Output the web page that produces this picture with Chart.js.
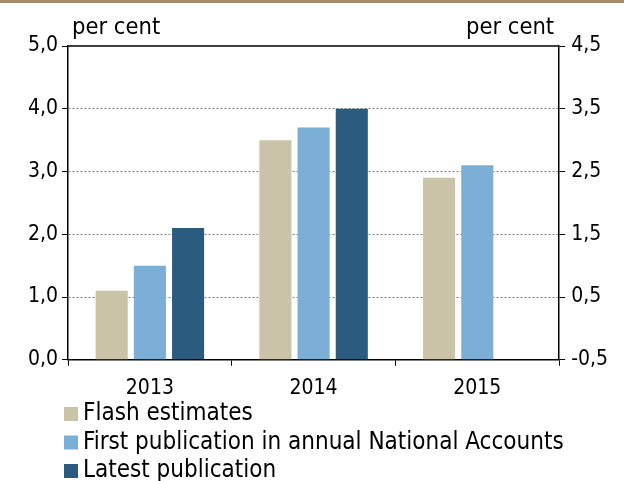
<!DOCTYPE html>
<html>
<head>
<meta charset="utf-8">
<script src="https://cdn.jsdelivr.net/npm/chart.js@4"></script>
<style>
  body { margin: 0; background: #fff; }
  #wrap { width: 624px; height: 478px; border-top: 3px solid #a68b6c; }
</style>
</head>
<body>
<div id="wrap"><canvas id="chart" width="624" height="478"></canvas></div>
<script>
// data
const years = ['2013', '2014', '2015'];
const flashEstimates = [1.1, 3.5, 2.9];
const firstPublication = [1.5, 3.7, 3.1];
const latestPublication = [2.1, 4.0, null];
const seriesNames = ['Flash estimates', 'First publication in annual National Accounts', 'Latest publication'];
const seriesColors = ['#cac3a8', '#7cafd5', '#2b5b7f'];

const FONT = '"DejaVu Sans Condensed", "DejaVu Sans", sans-serif';
Chart.defaults.font.family = FONT;
Chart.defaults.font.size = 21;
Chart.defaults.color = '#000';

function comma(v) {
    return v.toFixed(1).replace('.', ',');
}

// frame top line, "per cent" labels and the legend
const extras = {
    id: 'extras',
    afterDraw(chart) {
        const ctx = chart.ctx;
        const a = chart.chartArea;
        ctx.save();
        ctx.strokeStyle = '#000';
        ctx.lineWidth = 1.5;
        ctx.beginPath();
        ctx.moveTo(a.left, a.top);
        ctx.lineTo(a.right, a.top);
        ctx.stroke();

        ctx.fillStyle = '#000';
        ctx.font = '23.5px ' + FONT;
        ctx.textBaseline = 'middle';
        ctx.textAlign = 'left';
        ctx.fillText('per cent', a.left + 4, 25);
        ctx.textAlign = 'right';
        ctx.fillText('per cent', a.right - 5, 25);

        // legend, one row per series
        ctx.font = '24px ' + FONT;
        ctx.textAlign = 'left';
        chart.data.datasets.forEach(function (ds, i) {
            const y = 411 + i * 28.5;
            ctx.fillStyle = ds.backgroundColor;
            ctx.fillRect(64, y - 7, 14, 14);
            ctx.fillStyle = '#000';
            ctx.fillText(ds.label, 83, y);
        });
        ctx.restore();
    }
};

const ctxChart = document.getElementById('chart').getContext('2d');
const chart = new Chart(ctxChart, {
    type: 'bar',
    data: {
        labels: years,
        datasets: [
            { label: seriesNames[0], data: flashEstimates, backgroundColor: seriesColors[0] },
            { label: seriesNames[1], data: firstPublication, backgroundColor: seriesColors[1] },
            { label: seriesNames[2], data: latestPublication, backgroundColor: seriesColors[2] }
        ]
    },
    options: {
        responsive: false,
        animation: false,
        categoryPercentage: 0.7,
        barPercentage: 0.84,
        layout: { padding: { top: 43, left: 24, right: 10, bottom: 70 } },
        plugins: { legend: { display: false }, tooltip: { enabled: false } },
        scales: {
            x: {
                grid: { drawOnChartArea: false, tickLength: 6, tickColor: '#000', offset: true },
                border: { color: '#000', width: 1.5 },
                ticks: { padding: 10 }
            },
            y: {
                position: 'left',
                min: 0,
                max: 5,
                ticks: { stepSize: 1, callback: comma, padding: 4 },
                grid: {
                    color: function (c) {
                        return (c.tick && (c.tick.value === 0 || c.tick.value === 5)) ? 'rgba(0,0,0,0)' : '#808080';
                    },
                    tickColor: '#000',
                    tickLength: 6,
                    tickBorderDash: []
                },
                border: { color: '#000', width: 1.5, dash: [2, 2] }
            },
            y2: {
                position: 'right',
                min: -0.5,
                max: 4.5,
                ticks: { stepSize: 1, callback: comma, padding: 6 },
                grid: { drawOnChartArea: false, tickColor: '#000', tickLength: 6 },
                border: { color: '#000', width: 1.5 }
            }
        }
    },
    plugins: [extras]
});
</script>
</body>
</html>
